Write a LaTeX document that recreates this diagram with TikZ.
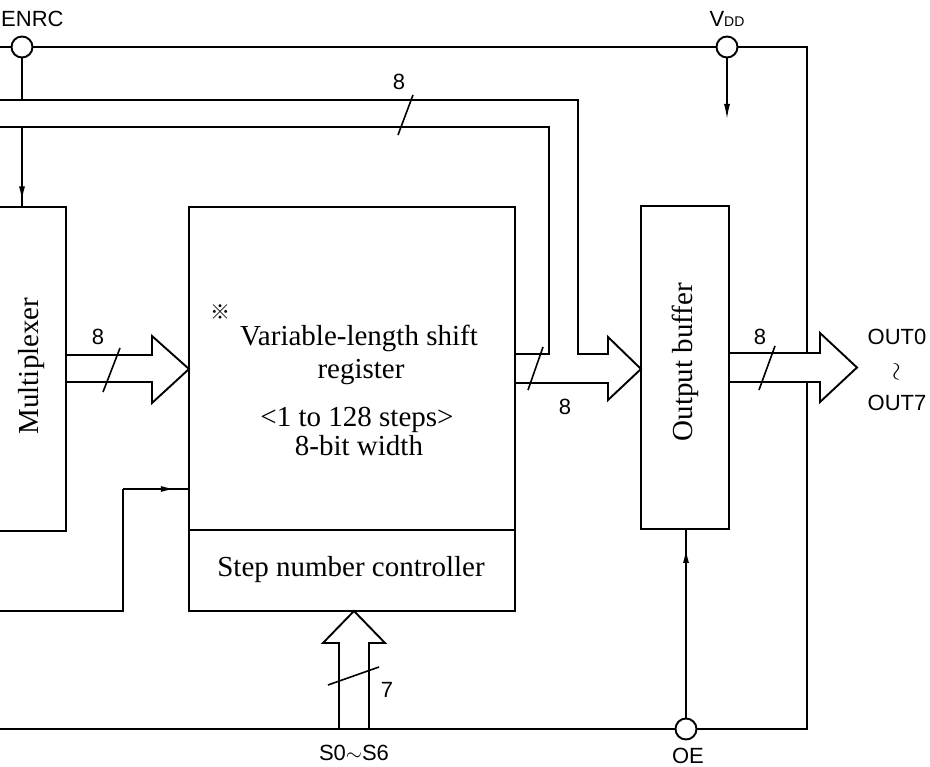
\documentclass[tikz,border=0pt]{standalone}
\usepackage{fontspec}
\setmainfont{Liberation Serif}
\newfontfamily\lblfont{Liberation Sans}
\newfontfamily\symfont{Noto Sans CJK JP}
\usetikzlibrary{arrows.meta,decorations.markings}
\begin{document}
\begin{tikzpicture}[x=1pt,y=-1pt,
  wire/.style={line width=1.9pt},
  slash/.style={line width=1.6pt},
  blk/.style={draw, line width=1.9pt, inner sep=0pt, outer sep=0pt},
  pin/.style={draw, circle, line width=1.9pt, minimum size=21pt, inner sep=0pt, outer sep=0pt, fill=white},
  txt/.style={font=\fontsize{29}{29}\selectfont, inner sep=0pt},
  lbl/.style={font=\lblfont\fontsize{22}{22}\selectfont, inner sep=0pt},
  midarrow/.style={decoration={markings, mark=at position #1 with {\arrow{Latex[length=15pt,width=6pt]}}}, postaction={decorate}},
]
\useasboundingbox (0,0) rectangle (930,767);

% blocks
\node[blk, minimum width=71pt, minimum height=324pt] (mux) at (30.5,369) {};
\node[txt, rotate=90] (muxt) at (32,366) {Multiplexer};
\node[blk, minimum width=326pt, minimum height=323pt] (sr) at (352,368.5) {};
\node[blk, minimum width=326pt, minimum height=81pt] (snc) at (352,570.5) {};
\node[blk, minimum width=88pt, minimum height=323pt] (ob) at (685,367.5) {};
\node[txt, rotate=90] (obt) at (685,362) {Output buffer};

\node[txt, anchor=base] (l1) at (359,346) {Variable-length shift};
\node[txt, anchor=base] (l2) at (361,379) {register};
\node[txt, anchor=base] (l3) at (357,427) {<1 to 128 steps>};
\node[txt, anchor=base] (l4) at (359,456) {8-bit width};
\node[font=\symfont\fontsize{20}{20}\selectfont, inner sep=0pt] (ref) at (220,312) {※};
\node[txt] (snct) at (351,570) {Step number controller};

% pins
\node[pin] (enrc) at (22,47) {};
\node[pin] (vdd) at (727,47) {};
\node[pin] (oe) at (686,729) {};

\node[lbl, anchor=base west] (enrct) at (1,27) {ENRC};
\node[lbl, anchor=base] (vddt) at (727,27) {V\fontsize{14}{14}\selectfont DD};
\node[lbl, anchor=base] (oet) at (688,763) {OE};
\node[lbl, anchor=base] (st) at (354,760) {S0$\sim$S6};
\node[lbl, anchor=base] (o0) at (897,345) {OUT0};
\node[lbl, font=\fontsize{26}{26}\selectfont] (osep) at (898,372) {\rotatebox{90}{$\sim$}};
\node[lbl, anchor=base] (o7) at (897,411) {OUT7};

% bus width labels
\node[lbl] (n1) at (98,337) {8};
\node[lbl] (n2) at (399,82) {8};
\node[lbl] (n3) at (565,407) {8};
\node[lbl] (n4) at (760,337) {8};
\node[lbl] (n5) at (387,690) {7};

% coordinates
\coordinate (tl) at (0,47);
\coordinate (rt) at (807,47);
\coordinate (oa1) at (807,353);
\coordinate (oa2) at (807,382);
\coordinate (rb) at (807,729);
\coordinate (bl) at (0,729);
\coordinate (bt) at (22,100);
\coordinate (bb) at (22,127);
\coordinate (fb0) at (0,611);
\coordinate (fb1) at (123,611);
\coordinate (fb2) at (123,489);
\coordinate (vend) at (727,120);

% single wires
\draw[wire] (tl) -- (enrc) -- (vdd) -- (rt) -- (oa1);
\draw[wire] (oa2) -- (rb) -- (oe) -- (bl);
\draw[wire] (enrc) -- (bt);
\draw[wire, midarrow=0.93] (bb) -- (bb |- mux.north);
\draw[wire, -{Latex[length=16pt,width=6pt]}] (vdd) -- (vend);
\draw[wire, midarrow=0.9] (oe) -- (oe |- ob.south);
\draw[wire] (fb0) -- (fb1) -- (fb2);
\draw[wire, midarrow=0.8] (fb2) -- (fb2 -| sr.west);

% buses
\draw[wire] (66,355) -- (152,355) -- (152,336) -- (189,369) -- (152,403) -- (152,382) -- (66,382);
\draw[wire] (515,383) -- (608,383) -- (608,400) -- (641,369) -- (608,337) -- (608,354) -- (578,354) -- (578,100) -- (0,100);
\draw[wire] (515,354) -- (549,354) -- (549,127) -- (0,127);
\draw[wire] (729,353) -- (820,353) -- (820,333) -- (857,367.5) -- (820,402) -- (820,382) -- (729,382);
\draw[wire] (339,729) -- (339,643) -- (323,643) -- (354,611) -- (385,643) -- (369,643) -- (369,729);

% slashes
\draw[slash] (103,392) -- (120,348);
\draw[slash] (398,135) -- (413,95);
\draw[slash] (528,390) -- (543,347);
\draw[slash] (759,390) -- (775,346);
\draw[slash] (328,685) -- (379,667);
\end{tikzpicture}
\end{document}
